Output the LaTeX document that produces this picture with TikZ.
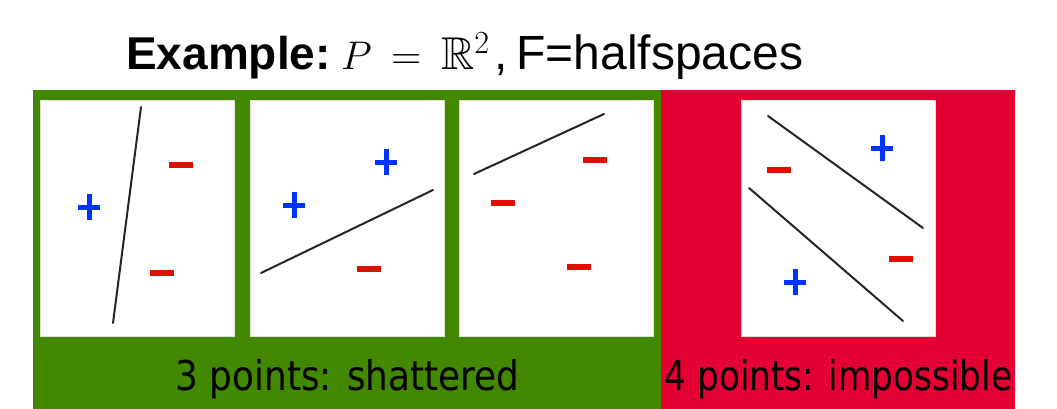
\RequirePackage{fix-cm}
\documentclass[tikz,border=0pt]{standalone}
\usepackage{amssymb}
\usepackage{fontspec}
\setmainfont{Liberation Sans}
\newfontfamily\labelfont{DejaVu Sans}
\definecolor{okgreen}{RGB}{66,136,0}
\definecolor{badred}{RGB}{228,0,50}
\definecolor{plusblue}{RGB}{0,51,255}
\definecolor{minusred}{RGB}{221,17,0}
\tikzset{
  panel/.style={fill=white, draw=black!12, line width=0.8pt, minimum width=194pt, minimum height=236pt, inner sep=0pt},
  cut/.style={line width=2pt, black!85, line cap=round},
  plus/.pic={\draw[plusblue, line width=5pt] (-11,0) -- (11,0) (0,-13) -- (0,13);},
  minus/.pic={\fill[minusred] (-12,-3) rectangle (12,3);},
  headtext/.style={anchor=base west, inner sep=0pt, font=\fontsize{46}{52}\selectfont},
  headmath/.style={anchor=base west, inner sep=0pt, font=\fontsize{40}{48}\selectfont},
  caption/.style={font=\labelfont\fontsize{41}{44}\selectfont, xscale=0.875, inner sep=0pt, anchor=base},
}
\begin{document}
\begin{tikzpicture}[x=1pt,y=-1pt]
  \useasboundingbox (0,0) rectangle (1057,409);
  % title
  \node[headtext] (example) at (126,70) {\textbf{Example:}};
  \node[headmath] (pset) at (341,70) {$P$};
  \node[headmath, font=\fontsize{42}{48}\selectfont] (equals) at (391,70) {$=$};
  \node[headmath, font=\fontsize{46}{52}\selectfont] (plane) at (441,70) {$\mathbb{R}^2$};
  \node[headtext, font=\fontsize{48}{54}\selectfont] (family) at (494,70) {,\hspace{9pt}F=halfspaces};
  % backgrounds
  \fill[okgreen] (33,90) rectangle (661,409);
  \fill[badred] (661,90) rectangle (1015,409);
  % panels
  \node[panel] (p1) at (137,218) {};
  \node[panel] (p2) at (347,218) {};
  \node[panel] (p3) at (556,218) {};
  \node[panel] (p4) at (838,218) {};
  % panel 1
  \draw[cut] (141,107) -- (113,323);
  \pic at (89,207) {plus};
  \pic at (181,165) {minus};
  \pic at (162,273) {minus};
  % panel 2
  \draw[cut] (261,273) -- (433,190);
  \pic at (294,205) {plus};
  \pic at (386,162) {plus};
  \pic at (369,269) {minus};
  % panel 3
  \draw[cut] (474,174) -- (604,114);
  \pic at (595,160) {minus};
  \pic at (503,203) {minus};
  \pic at (579,267) {minus};
  % panel 4
  \draw[cut] (768,116) -- (923,228);
  \draw[cut] (749,188) -- (903,321);
  \pic at (882,148) {plus};
  \pic at (795,282) {plus};
  \pic at (779,170) {minus};
  \pic at (901,259) {minus};
  % captions
  \node[caption] (shattered) at (347.5,390) {3 points: shattered};
  \node[caption, xscale=0.955] (impossible) at (838.5,390) {4 points: impossible};
\end{tikzpicture}
\end{document}
